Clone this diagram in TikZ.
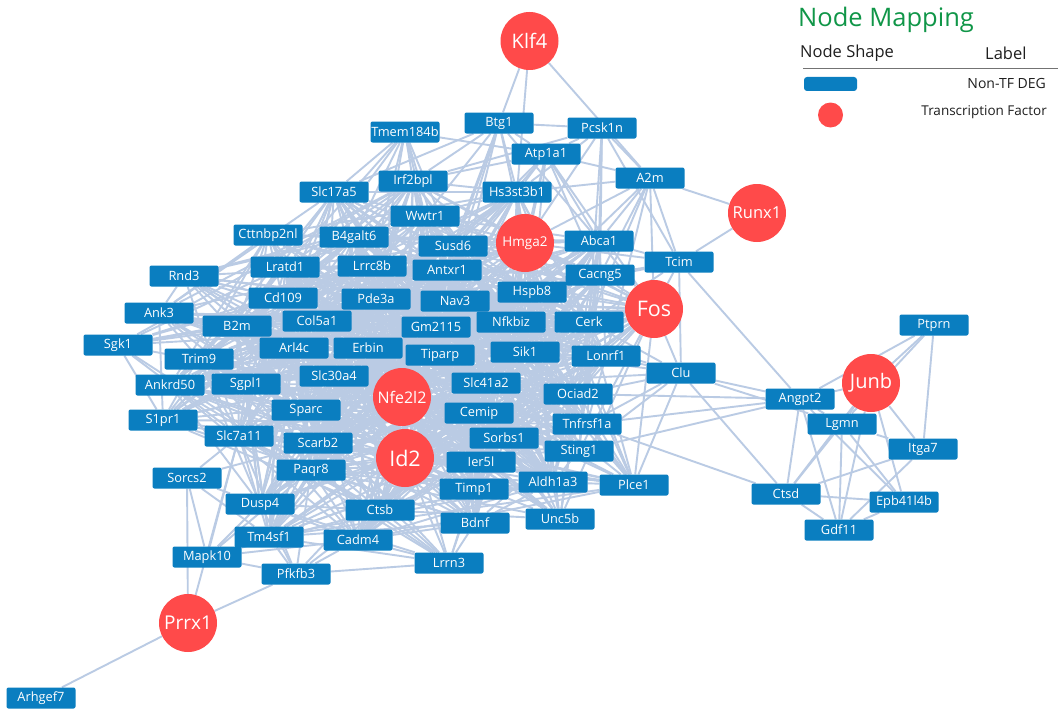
\documentclass[tikz,border=0pt]{standalone}
\usepackage{fontspec}
\setmainfont{Open Sans}
\pgfdeclarelayer{bg}
\pgfsetlayers{bg,main}
\definecolor{degblue}{RGB}{10,126,192}
\definecolor{tfred}{RGB}{255,74,74}
\definecolor{edgec}{RGB}{186,203,228}
\definecolor{titlegreen}{RGB}{16,150,72}
\tikzset{
  deg/.style={rectangle, rounded corners=2pt, fill=degblue, text=white, minimum width=69pt, minimum height=21pt, inner sep=0pt, font=\fontsize{12.8}{13}\selectfont},
  tf/.style={circle, fill=tfred, text=white, minimum size=58pt, inner sep=0pt},
  lnk/.style={draw=edgec, line width=1.9pt},
}
\begin{document}
\begin{tikzpicture}[x=1pt,y=-1pt]
\useasboundingbox (0,0) rectangle (1058,709);
% DEG nodes
\foreach \n/\x/\y in {Tmem184b/405/132, Btg1/499/123, Pcsk1n/602/128, Atp1a1/546/154, A2m/650/178,
  Slc17a5/334/192, Irf2bpl/413/181, Hs3st3b1/517/192, Wwtr1/425/216, Cttnbp2nl/268/235, B4galt6/354/237,
  Susd6/453/246, Abca1/599/241, Tcim/679/262, Rnd3/184/276, Lratd1/285/267, Lrrc8b/372/266, Antxr1/447/270,
  Cacng5/600/275, Cd109/283/298, Pde3a/376/299, Nav3/455/301, Hspb8/532/292, Ank3/159/313, B2m/237/326,
  Col5a1/317/321, Gm2115/436/327, Nfkbiz/511/322, Cerk/589/322, Sgk1/118/345, Trim9/199/359, Arl4c/294/348,
  Erbin/368/348, Tiparp/440/355, Sik1/525/352, Lonrf1/606/356, Clu/681/373, Ankrd50/170/385, Sgpl1/246/384,
  Slc30a4/334/376, Slc41a2/486/383, Ociad2/578/394, S1pr1/163/420, Sparc/306/410, Cemip/479/413,
  Tnfrsf1a/587/424, Slc7a11/239/436, Scarb2/318/443, Sorbs1/504/438, Sting1/579/451, Ier5l/481/462,
  Sorcs2/187/478, Paqr8/311/470, Timp1/474/489, Aldh1a3/553/482, Plce1/634/485, Dusp4/260/504, Ctsb/380/510,
  Bdnf/475/523, Unc5b/560/519, Tm4sf1/269/537, Cadm4/358/540, Lrrn3/449/563, Mapk10/207/557, Pfkfb3/296/574,
  Arhgef7/41/698, Ptprn/934/325, Angpt2/800/399, Lgmn/842/424, Itga7/923/449, Ctsd/786/494,
  Epb41l4b/904/502, Gdf11/839/530}{
  \node[deg] (\n) at (\x,\y) {\n};
  \expandafter\xdef\csname X@\n\endcsname{\x}
  \expandafter\xdef\csname Y@\n\endcsname{\y}
}
% transcription factors
\foreach \n/\x/\y/\fs in {Klf4/529.5/41/20, Runx1/757/213/16.5, Hmga2/525/243/13.5, Fos/654/309/21.5,
  Junb/871/383/20, Nfe2l2/402/397/16, Id2/405/458/21.5, Prrx1/188/623/19}{
  \node[tf, font=\fontsize{\fs}{\fs}\selectfont] (\n) at (\x,\y) {\n};
  \expandafter\xdef\csname X@\n\endcsname{\x}
  \expandafter\xdef\csname Y@\n\endcsname{\y}
}
\def\meshlist{Slc17a5/0.6, Irf2bpl/0.65, Hs3st3b1/0.65, Wwtr1/0.8, Cttnbp2nl/0.6, B4galt6/0.85, Susd6/1,
  Abca1/0.8, Rnd3/0.6, Lratd1/0.9, Lrrc8b/1, Antxr1/1, Cacng5/0.8, Cd109/1, Pde3a/1, Nav3/1, Hspb8/1,
  Ank3/0.65, B2m/1, Col5a1/1, Gm2115/1, Nfkbiz/1, Cerk/0.85, Sgk1/0.6, Trim9/0.85, Arl4c/1, Erbin/1,
  Tiparp/1, Sik1/1, Lonrf1/0.8, Ankrd50/0.7, Sgpl1/1, Slc30a4/1, Slc41a2/1, Ociad2/0.85, S1pr1/0.65,
  Sparc/1, Cemip/1, Tnfrsf1a/0.8, Slc7a11/0.8, Scarb2/1, Sorbs1/1, Sting1/0.85, Ier5l/1, Paqr8/1, Timp1/1,
  Aldh1a3/0.8, Plce1/0.65, Dusp4/0.7, Ctsb/0.8, Bdnf/0.7, Unc5b/0.6, Tm4sf1/0.65, Cadm4/0.7,
  Hmga2/1.2, Fos/1.15, Nfe2l2/1.4, Id2/1.4}
\pgfmathsetseed{7}
\begin{pgfonlayer}{bg}
\fill[white] (0,0) rectangle (1058,709);
\foreach \a/\wa [count=\i] in \meshlist {
  \foreach \b/\wb [count=\j] in \meshlist {
    \ifnum\j>\i
      \pgfmathsetmacro\dd{veclen(\csname X@\a\endcsname-\csname X@\b\endcsname,\csname Y@\a\endcsname-\csname Y@\b\endcsname)}
      \pgfmathsetmacro\pp{((\dd<200)*0.9+(\dd>=200)*(\dd<350)*0.6+(\dd>=350)*0.22)*\wa*\wb}
      \pgfmathsetmacro\ok{rnd<\pp}
      \ifdim\ok pt>0.5pt \draw[lnk] (\a) -- (\b); \fi
    \fi
  }
}
\foreach \a/\b in {Klf4/Btg1, Klf4/Hs3st3b1, Klf4/A2m,
  Tmem184b/Slc17a5, Tmem184b/Irf2bpl, Tmem184b/Wwtr1, Tmem184b/B4galt6, Tmem184b/Lratd1, Tmem184b/Lrrc8b,
  Tmem184b/Susd6, Tmem184b/Atp1a1, Tmem184b/Cd109, Tmem184b/Pde3a, Tmem184b/Antxr1,
  Btg1/Pcsk1n, Btg1/Atp1a1, Btg1/Irf2bpl, Btg1/Hs3st3b1, Btg1/Wwtr1, Btg1/Susd6, Btg1/Antxr1, Btg1/Hmga2,
  Btg1/Nav3, Btg1/Abca1, Btg1/Slc17a5, Btg1/Gm2115,
  Pcsk1n/Atp1a1, Pcsk1n/A2m, Pcsk1n/Abca1, Pcsk1n/Cacng5, Pcsk1n/Hs3st3b1, Pcsk1n/Hmga2, Pcsk1n/Cerk,
  Pcsk1n/Irf2bpl, Pcsk1n/Tcim,
  Atp1a1/Hs3st3b1, Atp1a1/Irf2bpl, Atp1a1/Hmga2, Atp1a1/Abca1, Atp1a1/A2m, Atp1a1/Susd6, Atp1a1/Antxr1,
  Atp1a1/Hspb8, Atp1a1/Cacng5, Atp1a1/Fos, Atp1a1/Nfkbiz,
  A2m/Hs3st3b1, A2m/Tcim, A2m/Runx1, A2m/Fos, A2m/Abca1, A2m/Cacng5, A2m/Hmga2, A2m/Cerk, A2m/Lonrf1, A2m/Hspb8,
  Runx1/Tcim,
  Tcim/Fos, Tcim/Abca1, Tcim/Cacng5, Tcim/Angpt2, Tcim/Clu, Tcim/Hmga2, Tcim/Cerk, Tcim/Hspb8,
  Clu/Fos, Clu/Angpt2, Clu/Ctsd, Clu/Lonrf1, Clu/Ociad2, Clu/Tnfrsf1a, Clu/Sting1, Clu/Cerk, Clu/Sik1,
  Clu/Lgmn, Clu/Nfkbiz, Clu/Slc41a2, Clu/Plce1,
  Ociad2/Angpt2, Tnfrsf1a/Angpt2, Tnfrsf1a/Ctsd, Sting1/Angpt2,
  Junb/Ptprn, Junb/Angpt2, Junb/Lgmn, Junb/Itga7, Junb/Epb41l4b, Junb/Ctsd, Junb/Gdf11,
  Ptprn/Angpt2, Ptprn/Lgmn, Ptprn/Itga7,
  Angpt2/Lgmn, Angpt2/Ctsd, Angpt2/Gdf11, Angpt2/Epb41l4b,
  Lgmn/Itga7, Lgmn/Ctsd, Lgmn/Gdf11, Lgmn/Epb41l4b,
  Itga7/Ctsd, Itga7/Gdf11, Ctsd/Gdf11, Ctsd/Epb41l4b, Epb41l4b/Gdf11,
  Prrx1/Arhgef7, Prrx1/Pfkfb3, Prrx1/Sorcs2, Prrx1/Slc7a11,
  Sorcs2/Mapk10, Sorcs2/Slc7a11, Sorcs2/Dusp4, Sorcs2/Tm4sf1, Sorcs2/Scarb2,
  Mapk10/Dusp4, Mapk10/Tm4sf1, Mapk10/Pfkfb3, Mapk10/Slc7a11, Mapk10/Cadm4, Mapk10/Ctsb, Mapk10/Paqr8,
  Pfkfb3/Tm4sf1, Pfkfb3/Cadm4, Pfkfb3/Lrrn3, Pfkfb3/Dusp4, Pfkfb3/Paqr8, Pfkfb3/Ctsb, Pfkfb3/Id2, Pfkfb3/Slc7a11,
  Lrrn3/Bdnf, Lrrn3/Cadm4, Lrrn3/Ctsb, Lrrn3/Timp1, Lrrn3/Tm4sf1, Lrrn3/Paqr8, Lrrn3/Id2, Lrrn3/Slc7a11,
  Lrrn3/Sparc, Lrrn3/Scarb2, Lrrn3/Nfe2l2, Lrrn3/Ier5l, Lrrn3/Dusp4}{
  \draw[lnk] (\a) -- (\b);
}
\end{pgfonlayer}
% legend
\node[anchor=west, text=titlegreen, inner sep=0pt, font=\fontsize{25.5}{26}\selectfont] (lgtitle) at (798,20) {Node Mapping};
\node[anchor=west, text=black!88, inner sep=0pt, font=\fontsize{16.5}{17}\selectfont] (lgshape) at (800,53) {Node Shape};
\node[anchor=west, text=black!88, inner sep=0pt, font=\fontsize{16.5}{17}\selectfont] (lglabel) at (985,53) {Label};
\coordinate (lgA) at (803,68);
\coordinate (lgB) at (1058,68);
\draw[black!55, line width=0.8pt] (lgA) -- (lgB);
\node[rectangle, rounded corners=3pt, fill=degblue, minimum width=53pt, minimum height=14pt, inner sep=0pt] (lgdeg) at (830.5,84) {};
\node[anchor=east, text=black!88, inner sep=0pt, font=\fontsize{14}{14}\selectfont] (lgdegt) at (1046,83) {Non-TF DEG};
\node[circle, fill=tfred, minimum size=25pt, inner sep=0pt] (lgtf) at (830.5,115) {};
\node[anchor=east, text=black!88, inner sep=0pt, font=\fontsize{13.5}{14}\selectfont] (lgtft) at (1047,112) {Transcription Factor};
\end{tikzpicture}
\end{document}
